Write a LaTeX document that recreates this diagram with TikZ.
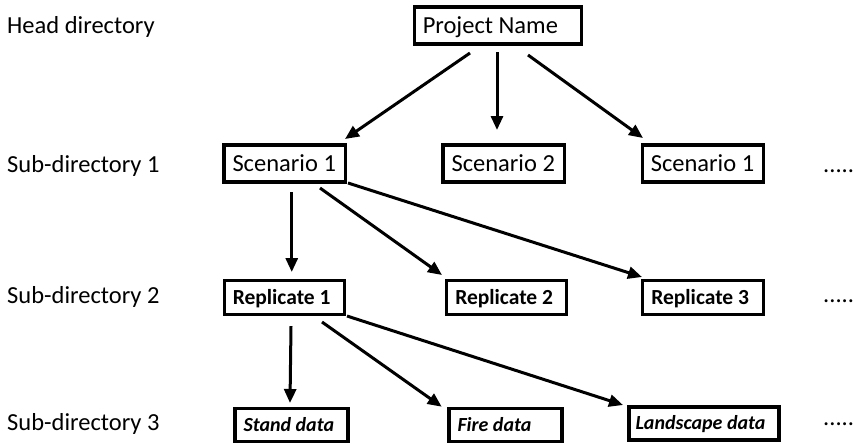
\documentclass[tikz,border=0pt]{standalone}
\usepackage{fontspec}
\setmainfont{Carlito}
\usetikzlibrary{arrows.meta,calc}
\begin{document}
\begin{tikzpicture}[x=1pt,y=-1pt,
  % framed directory box; the argument is its outer width, text flush left
  box/.style={draw, line width=3.2pt, inner xsep=8.5pt, inner ysep=0pt,
    minimum height=37pt,
    execute at begin node={\hbox to \dimexpr#1-17pt\relax\bgroup},
    execute at end node={\hfil\egroup},
    text height=15.8pt, text depth=0pt, font=\fontsize{24.5}{28}\selectfont},
  repbox/.style={box=#1, minimum height=34pt, text height=13.8pt,
    font=\fontsize{21.5}{25}\selectfont\bfseries},
  databox/.style={box=#1, minimum height=33pt, text height=12.9pt,
    font=\fontsize{20}{23}\selectfont\bfseries\itshape},
  lvl/.style={anchor=base west, inner sep=0pt, font=\fontsize{24.5}{28}\selectfont},
  link/.style={line width=3pt, -{Triangle[length=14pt,width=12pt]}}
]
\useasboundingbox (0,0) rectangle (853,445);

% level labels
\node[lvl] (l0) at (7,33) {Head directory};
\node[lvl] (l1) at (7,172) {Sub-directory 1};
\node[lvl] (l2) at (7,303) {Sub-directory 2};
\node[lvl] (l3) at (7,430) {Sub-directory 3};

% head directory
\node[box=167.5pt] (pn) at (498,25.5) {Project Name};

% sub-directory 1
\node[box=121.5pt] (sa) at (284.75,163.5) {Scenario 1};
\node[box=121.5pt] (sb) at (503.75,163.5) {Scenario 2};
\node[box=121.5pt] (sc) at (703,163.5) {Scenario 1};
\node[lvl] (m1) at (823,172) {.....};

% sub-directory 2
\node[repbox=120.5pt] (ra) at (284.5,297.6) {Replicate 1};
\node[repbox=119.5pt] (rb) at (506.5,297.6) {Replicate 2};
\node[repbox=120.5pt] (rc) at (703,297.6) {Replicate 3};
\node[lvl] (m2) at (823,302) {.....};

% sub-directory 3
\node[databox=113pt] (da) at (291.5,425.3) {Stand data};
\node[databox=113pt] (db) at (505.5,425.3) {Fire data};
\node[databox=154pt, inner xsep=6.5pt] (dc) at (704,423.5) {Landscape data};
\node[lvl] (m3) at (823,425) {.....};

% connectors
\draw[link] ($(pn.center)+(-28,27.5)$) -- ($(sa.center)+(60.25,-24.5)$);
\draw[link] ($(pn.center)+(-1,26.5)$) -- ($(sb.center)+(-6.75,-33.5)$);
\draw[link] ($(pn.center)+(30,29.5)$) -- ($(sc.center)+(-60,-25.5)$);

\draw[link] ($(sa.center)+(7,28.5)$) -- ($(ra.center)+(7.25,-25.6)$);
\draw[link] ($(sa.center)+(35.25,24.5)$) -- ($(rb.center)+(-64.5,-22.6)$);
\draw[link] ($(sa.center)+(63.25,19.5)$) -- ($(rc.center)+(-61,-20.6)$);

\draw[link] ($(ra.center)+(6.5,28.5)$) -- ($(da.center)+(-1.5,-22.3)$);
\draw[link] ($(ra.center)+(37.5,24.4)$) -- ($(db.center)+(-63.8,-18.6)$);
\draw[link] ($(ra.center)+(62.5,18.4)$) -- ($(dc.center)+(-81,-18.5)$);
\end{tikzpicture}
\end{document}
